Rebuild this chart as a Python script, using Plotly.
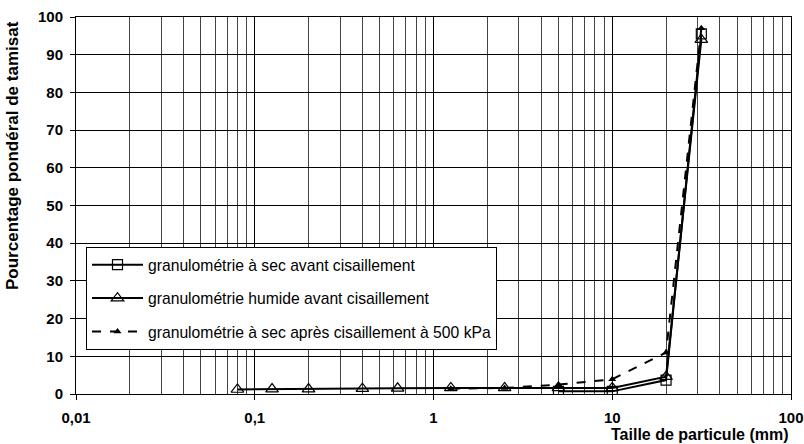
import plotly.graph_objects as go

# Sieve sizes (mm)
x_sec_avant = [5, 10, 20, 31.5]
y_sec_avant = [0.7, 0.7, 3.7, 95.5]

x_humide = [0.08, 0.125, 0.2, 0.4, 0.63, 1.25, 2.5, 5, 10, 20, 31.5]
y_humide = [1.2, 1.3, 1.3, 1.4, 1.5, 1.6, 1.6, 1.6, 1.6, 4.6, 94.0]

x_sec_apres = [1.25, 2.5, 5, 10, 20, 31.5]
y_sec_apres = [1.4, 1.6, 2.5, 3.9, 11.0, 97.0]

names = [
    "granulométrie à sec avant cisaillement",
    "granulométrie humide avant cisaillement",
    "granulométrie à sec après cisaillement à 500 kPa",
]

x_tickvals = [0.01, 0.1, 1, 10, 100]
x_ticktext = ["0,01", "0,1", "1", "10", "100"]
y_tickvals = list(range(0, 101, 10))

FONT = "Liberation Sans, Arial, sans-serif"

W, H = 804, 444
ML, MR, MT, MB = 76, 13, 17, 50
PW = W - ML - MR
PH = H - MT - MB


def px(X):
    return (X - ML) / PW


def py(Y):
    return (H - MB - Y) / PH


fig = go.Figure()
fig.add_trace(go.Scatter(
    x=x_sec_avant, y=y_sec_avant, name=names[0], mode="lines+markers",
    legendgroup="a",
    line=dict(color="black", width=2),
    marker=dict(symbol="square-open", size=10, color="black", line=dict(width=1.2)),
))
fig.add_trace(go.Scatter(
    x=x_humide, y=y_humide, name=names[1], mode="lines+markers",
    legendgroup="b",
    line=dict(color="black", width=2),
    marker=dict(symbol="triangle-up-open", size=11, color="black", line=dict(width=1.2)),
))
fig.add_trace(go.Scatter(
    x=x_sec_apres, y=y_sec_apres, name=names[2], mode="lines+markers",
    legendgroup="c",
    line=dict(color="black", width=2, dash="dash"),
    marker=dict(symbol="triangle-up", size=7, color="black"),
))

fig.update_layout(
    width=W, height=H,
    margin=dict(l=ML, r=MR, t=MT, b=MB, autoexpand=False),
    paper_bgcolor="white", plot_bgcolor="white",
    font=dict(family=FONT, color="black", size=15),
    showlegend=True,
    legend=dict(
        x=px(86), y=py(247), xanchor="left", yanchor="top",
        bgcolor="white", bordercolor="black", borderwidth=1,
        font=dict(family=FONT, size=15.7, color="black"),
        itemwidth=51, tracegroupgap=10,
    ),
    annotations=[
        dict(
            text="<b>Taille de particule (mm)</b>", xref="paper", yref="paper",
            x=1.0, y=py(434.5), xanchor="right", yanchor="middle",
            showarrow=False, font=dict(family=FONT, size=16, color="black"),
        ),
        dict(
            text="<b>Pourcentage pondéral de tamisat</b>", xref="paper", yref="paper",
            x=px(12), y=py(156), xanchor="center", yanchor="middle", textangle=-90,
            showarrow=False, font=dict(family=FONT, size=17, color="black"),
        ),
    ],
)
fig.update_xaxes(
    type="log", range=[-2, 2], automargin=False,
    tickvals=x_tickvals, ticktext=x_ticktext,
    tickfont=dict(family=FONT, size=15, color="black", weight="bold"),
    ticks="outside", ticklen=5, tickcolor="black", ticklabelstandoff=5,
    showgrid=True, gridcolor="black", gridwidth=1,
    minor=dict(dtick="D1", showgrid=True, gridcolor="#444444", gridwidth=1, ticks=""),
    showline=True, linecolor="black", linewidth=1, mirror=True,
    zeroline=False,
)
fig.update_yaxes(
    range=[0, 100], tickvals=y_tickvals, automargin=False,
    tickfont=dict(family=FONT, size=15, color="black", weight="bold"),
    ticks="outside", ticklen=5, tickcolor="black", ticklabelstandoff=4,
    showgrid=True, gridcolor="black", gridwidth=1,
    showline=True, linecolor="black", linewidth=1, mirror=True,
    zeroline=False,
)

# remove the browser's default 8px body margin so the figure fills the window exactly
fig.write_html(
    "out.html",
    config={"displayModeBar": False},
    post_script="document.body.style.margin='0px';",
)
